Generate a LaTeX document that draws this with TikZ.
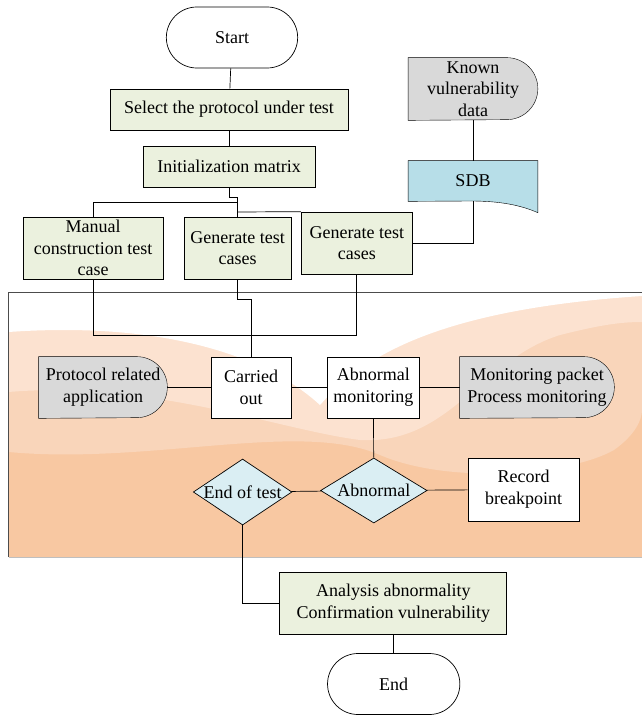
\documentclass[tikz,border=0pt]{standalone}
\usepackage{fontspec}
\setmainfont{Liberation Serif}
\usetikzlibrary{shapes.geometric,shapes.misc,backgrounds}

\definecolor{boxgreen}{HTML}{EBF1DE}
\definecolor{datagray}{HTML}{D9D9D9}
\definecolor{sdbblue}{HTML}{B7DEE8}
\definecolor{decblue}{HTML}{DAEEF3}
\definecolor{peachdeep}{HTML}{F8C8A2}
\definecolor{peachmid}{HTML}{F9D5BA}
\definecolor{peachlight}{HTML}{FCE2D0}

\begin{document}
\begin{tikzpicture}[x = 1pt, y = -1pt, align = center,
                    font = \fontsize{18}{21.7}\selectfont, line width = 0.7pt,
                    box/.style 2 args = {draw, rectangle, inner sep = 1pt, minimum width = #1pt, minimum height = #2pt},
                    proc/.style 2 args = {box = {#1}{#2}, fill = boxgreen},
                    act/.style 2 args = {box = {#1}{#2}, fill = white},
                    term/.style = {draw, rounded rectangle, fill = white, minimum width = #1pt, minimum height = 61pt},
                    data/.style 2 args = {rectangle, inner sep = 1pt, minimum width = #1pt, minimum height = #2pt},
                    test/.style 2 args = {draw, diamond, fill = decblue, aspect = 1.5, inner sep = 0pt, minimum width = #1pt, minimum height = #2pt},
                    datashape/.style = {draw, fill = datagray}]
                    \useasboundingbox (0, 0) rectangle (642, 715);
                    
                    \node[term = 138]           (1)  at (  232,  37.5) {Start};
                    \node[proc = {238}{41}]     (2)  at (  229, 109.5) {Select the protocol under test};
                    \node[proc = {172}{41}]     (3)  at (  229, 166.5) {Initialization matrix};
                    \node[proc = {140}{62}]     (4)  at ( 93.2,   248) {Manual\\construction test\\case};
                    \node[proc = {107}{62}]     (5)  at (237.7,   248) {Generate test\\cases};
                    \node[proc = {111}{62}]     (6)  at (356.8,   243) {Generate test\\cases};
                    \node[data = {129}{62}]     (7)  at (  473,    89) {Known\\vulnerability\\data};
                    \node[data = {129}{40}]     (8)  at (  473,   181) {SDB};
                    \node[data = {128}{61}]     (9)  at (  103, 387.5) {Protocol related\\application};
                    \node[act = {80}{61}]       (10) at (251.2, 387.5) {Carried\\out};
                    \node[act = {92}{61}]       (11) at (373.4, 387.5) {Abnormal\\monitoring};
                    \node[data = {154}{61}]     (12) at (  537, 387.5) {Monitoring packet\\Process monitoring};
                    \node[test = {106.5}{65}]   (13) at (373.8, 490.5) {Abnormal};
                    \node[test = {98.6}{66}]    (14) at (242.6,   492) {End of test};
                    \node[act = {111.4}{63}]    (15) at (523.7, 489.5) {Record\\breakpoint};
                    \node[proc = {227}{62}]     (16) at (393.3,   603) {Analysis abnormality\\Confirmation vulnerability};
                    \node[term = 139]           (17) at (393.7,   684) {End};
                    
                    \draw (1) -- (2);
                    \draw (2) -- (3);
                    \draw (3.south) |- (237.7, 197) -- (5.north);
                    \draw (4.north) |- (237.7, 202);
                    \draw (6.north west) -- (237.7, 212);
                    \draw (7) -- (8);
                    \draw (8.south) |- (6.east);
                    
                    \draw (4.south) -- ++(0, 56) -| (6.south);
                    \draw (5.south) -- ++(0, 20) -| (10.north);
                    
                    \draw (9) -- (10);
                    \draw (10) -- (11);
                    \draw (11) -- (12);
                    \draw (11) -- (13);
                    \draw (14) -- (13);
                    \draw (13) -- (15);
                    
                    \draw (14.south) |- (16.west);
                    \draw (16) -- (17);
                    
                    \begin{scope}[on background layer]
                        \begin{scope}
                            \clip (8.6, 292) rectangle (642, 556.7);
                            \fill[peachdeep] (8.6, 292) rectangle (642, 556.7);
                            \fill[peachmid] (8.6, 292) -- (8.6, 452) .. controls (150, 465) and (300, 420) .. (380, 455)
                                .. controls (450, 485) and (570, 475) .. (614, 450) .. controls (635, 435) and (642, 420) .. (642, 410)
                                -- (642, 292) -- cycle;
                            \fill[peachlight] (8.6, 292) -- (8.6, 392) .. controls (150, 380) and (280, 430) .. (360, 440)
                                .. controls (450, 445) and (480, 360) .. (560, 335) .. controls (600, 325) and (620, 322) .. (642, 322)
                                -- (642, 292) -- cycle;
                            \fill[white] (8.6, 292) -- (8.6, 332) .. controls (150, 322) and (260, 350) .. (320, 405)
                                .. controls (360, 360) and (430, 310) .. (642, 296) -- (642, 292) -- cycle;
                        \end{scope}
                        \draw[gray!50] (8.6, 556.7) -- (642, 556.7);
                        \draw[black!70] (642, 292) -- (8.6, 292) -- (8.6, 556.7);
                        
                        \draw[datashape] (7.north west) -- ([xshift = -31pt]7.north east) arc[start angle = 90, end angle = -90, radius = 31pt] -- (7.south west) -- cycle;
                        \draw[datashape] (9.north west) -- ([xshift = -30.5pt]9.north east) arc[start angle = 90, end angle = -90, radius = 30.5pt] -- (9.south west) -- cycle;
                        \draw[datashape] (12.north west) -- ([xshift = -30.5pt]12.north east) arc[start angle = 90, end angle = -90, radius = 30.5pt] -- (12.south west) -- cycle;
                        \draw[fill = sdbblue] (8.north west) -- (8.north east) -- ++(0, 52) .. controls (520, 205) and (500, 201) .. (470, 201) -- (8.south west) -- cycle;
                    \end{scope}
                \end{tikzpicture}
\end{document}
